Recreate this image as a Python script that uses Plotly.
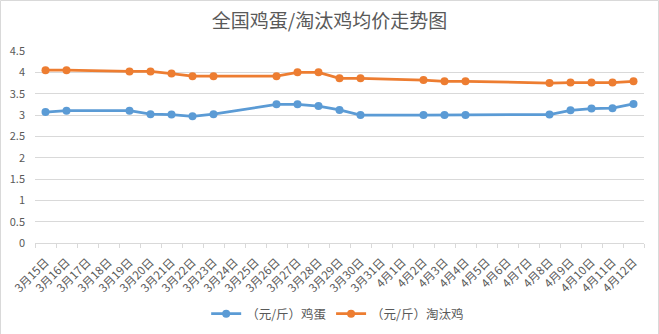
import plotly.graph_objects as go

dates = ["3月15日","3月16日","3月17日","3月18日","3月19日","3月20日","3月21日","3月22日","3月23日",
         "3月24日","3月25日","3月26日","3月27日","3月28日","3月29日","3月30日","3月31日",
         "4月1日","4月2日","4月3日","4月4日","4月5日","4月6日","4月7日","4月8日","4月9日",
         "4月10日","4月11日","4月12日"]
N = None
egg = [3.07, 3.10, N, N, 3.10, 3.02, 3.01, 2.97, 3.02, N, N, 3.25, 3.25, 3.21, 3.12, 3.00, N,
       N, 3.00, 3.00, 3.00, N, N, N, 3.01, 3.11, 3.15, 3.16, 3.26]
hen = [4.05, 4.05, N, N, 4.02, 4.02, 3.97, 3.91, 3.91, N, N, 3.91, 4.00, 4.00, 3.86, 3.86, N,
       N, 3.82, 3.79, 3.79, N, N, N, 3.75, 3.76, 3.76, 3.76, 3.79]
names = ["（元/斤）鸡蛋", "（元/斤）淘汰鸡"]
colors = ["#5B9BD5", "#ED7D31"]

fig = go.Figure()
for vals, name, c in zip([egg, hen], names, colors):
    fig.add_trace(go.Scatter(x=dates, y=vals, name=name, mode="lines+markers",
                             connectgaps=True,
                             line=dict(color=c, width=2.75),
                             marker=dict(color=c, size=8)))

font = "Noto Sans CJK SC, Microsoft YaHei, sans-serif"
W, H = 659, 334
L, R, T, B = 35, 15, 51, 91
pw, ph = W - L - R, H - T - B
fig.update_layout(
    width=W, height=H,
    margin=dict(l=L, r=R, t=T, b=B, autoexpand=False),
    paper_bgcolor="white", plot_bgcolor="white",
    font=dict(family=font, color="#595959", size=10),
    title=dict(text="全国鸡蛋/淘汰鸡均价走势图", x=0.5, xanchor="center",
               y=1 - 21 / H, yanchor="middle",
               font=dict(size=19, color="#595959", family=font)),
    showlegend=True,
    legend=dict(orientation="h", x=0.497, xanchor="center", yref="container",
                y=20 / H, yanchor="middle", font=dict(size=12.5, color="#595959"),
                itemwidth=30),
    xaxis=dict(type="category", tickangle=-45, tickson="boundaries", ticks="outside",
               ticklen=4, tickcolor="#d9d9d9", showline=True, linecolor="#d9d9d9",
               linewidth=1, showgrid=False, tickfont=dict(size=11.5, color="#595959"),
               ticklabelstandoff=7, automargin=False,
               range=[-0.5, len(dates) - 0.5]),
    yaxis=dict(range=[0, 4.5], dtick=0.5, showgrid=True, gridcolor="#d9d9d9",
               gridwidth=1, zeroline=False, showline=False, ticks="",
               ticklabelstandoff=9, automargin=False,
               tickfont=dict(size=11, color="#595959"), tickformat="~g"),
    shapes=[dict(type="rect", xref="paper", yref="paper",
                 x0=-(L - 0.5) / pw, x1=1 + (R - 0.5) / pw,
                 y0=-(B + 0.5) / ph, y1=1 + (T - 0.5) / ph,
                 line=dict(color="#d9d9d9", width=1), layer="below")],
)
fig.write_html("out.html")
